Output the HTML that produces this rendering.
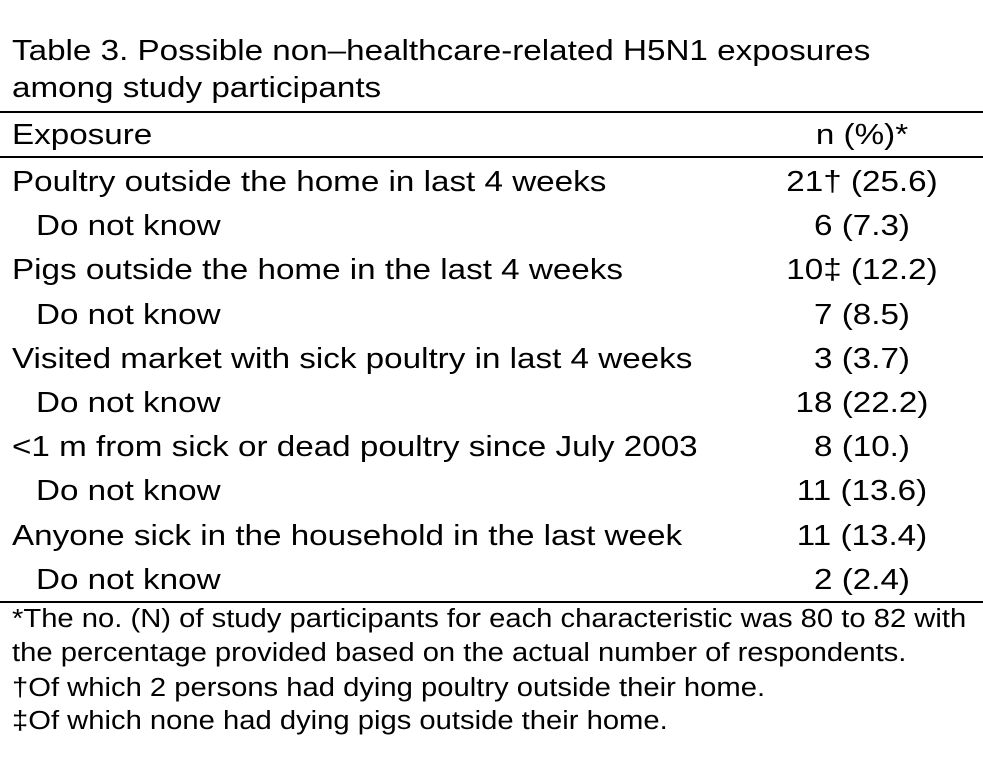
<!DOCTYPE html>
<html><head><meta charset="utf-8"><style>
body{margin:0;width:983px;height:759px;background:#fff;position:relative;overflow:hidden;font-family:"Liberation Sans",Arial,sans-serif;color:#000}
.t{position:absolute;white-space:nowrap;line-height:1;transform:scaleX(1.145);transform-origin:0 0}
.big{font-size:29px}
.sm{font-size:25.5px}
.l{left:12px}
.ind{left:36px}
.r{left:742px;width:240px;text-align:center;transform-origin:50% 0}
.hr{position:absolute;left:0;width:983px;height:2px;background:#000}
</style></head><body>
<div class="t big l" style="top:37px">Table 3. Possible non–healthcare-related H5N1 exposures</div>
<div class="t big l" style="top:74px">among study participants</div>
<div class="hr" style="top:111px"></div>
<div class="t big l" style="top:121px">Exposure</div>
<div class="t big r" style="top:121px">n (%)*</div>
<div class="hr" style="top:156px"></div>
<div id="rows"></div>
<div class="hr" style="top:601px"></div>
<div class="t sm l" style="top:607px">*The no. (N) of study participants for each characteristic was 80 to 82 with</div>
<div class="t sm l" style="top:641px">the percentage provided based on the actual number of respondents.</div>
<div class="t sm l" style="top:676px">†Of which 2 persons had dying poultry outside their home.</div>
<div class="t sm l" style="top:709px">‡Of which none had dying pigs outside their home.</div>
<script>
const labels=["Poultry outside the home in last 4 weeks","Do not know","Pigs outside the home in the last 4 weeks","Do not know","Visited market with sick poultry in last 4 weeks","Do not know","<1 m from sick or dead poultry since July 2003","Do not know","Anyone sick in the household in the last week","Do not know"];
const values=["21† (25.6)","6 (7.3)","10‡ (12.2)","7 (8.5)","3 (3.7)","18 (22.2)","8 (10.)","11 (13.6)","11 (13.4)","2 (2.4)"];
const c=document.getElementById('rows');
labels.forEach((lab,i)=>{
  const top=168+i*44.2;
  const a=document.createElement('div');
  a.className='t big '+(lab==="Do not know"?'ind':'l');
  a.style.top=top+'px';a.textContent=lab;
  
  
  c.appendChild(a);
  const b=document.createElement('div');
  b.className='t big r';b.style.top=top+'px';b.textContent=values[i];
  
  
  c.appendChild(b);
});
</script>
</body></html>
